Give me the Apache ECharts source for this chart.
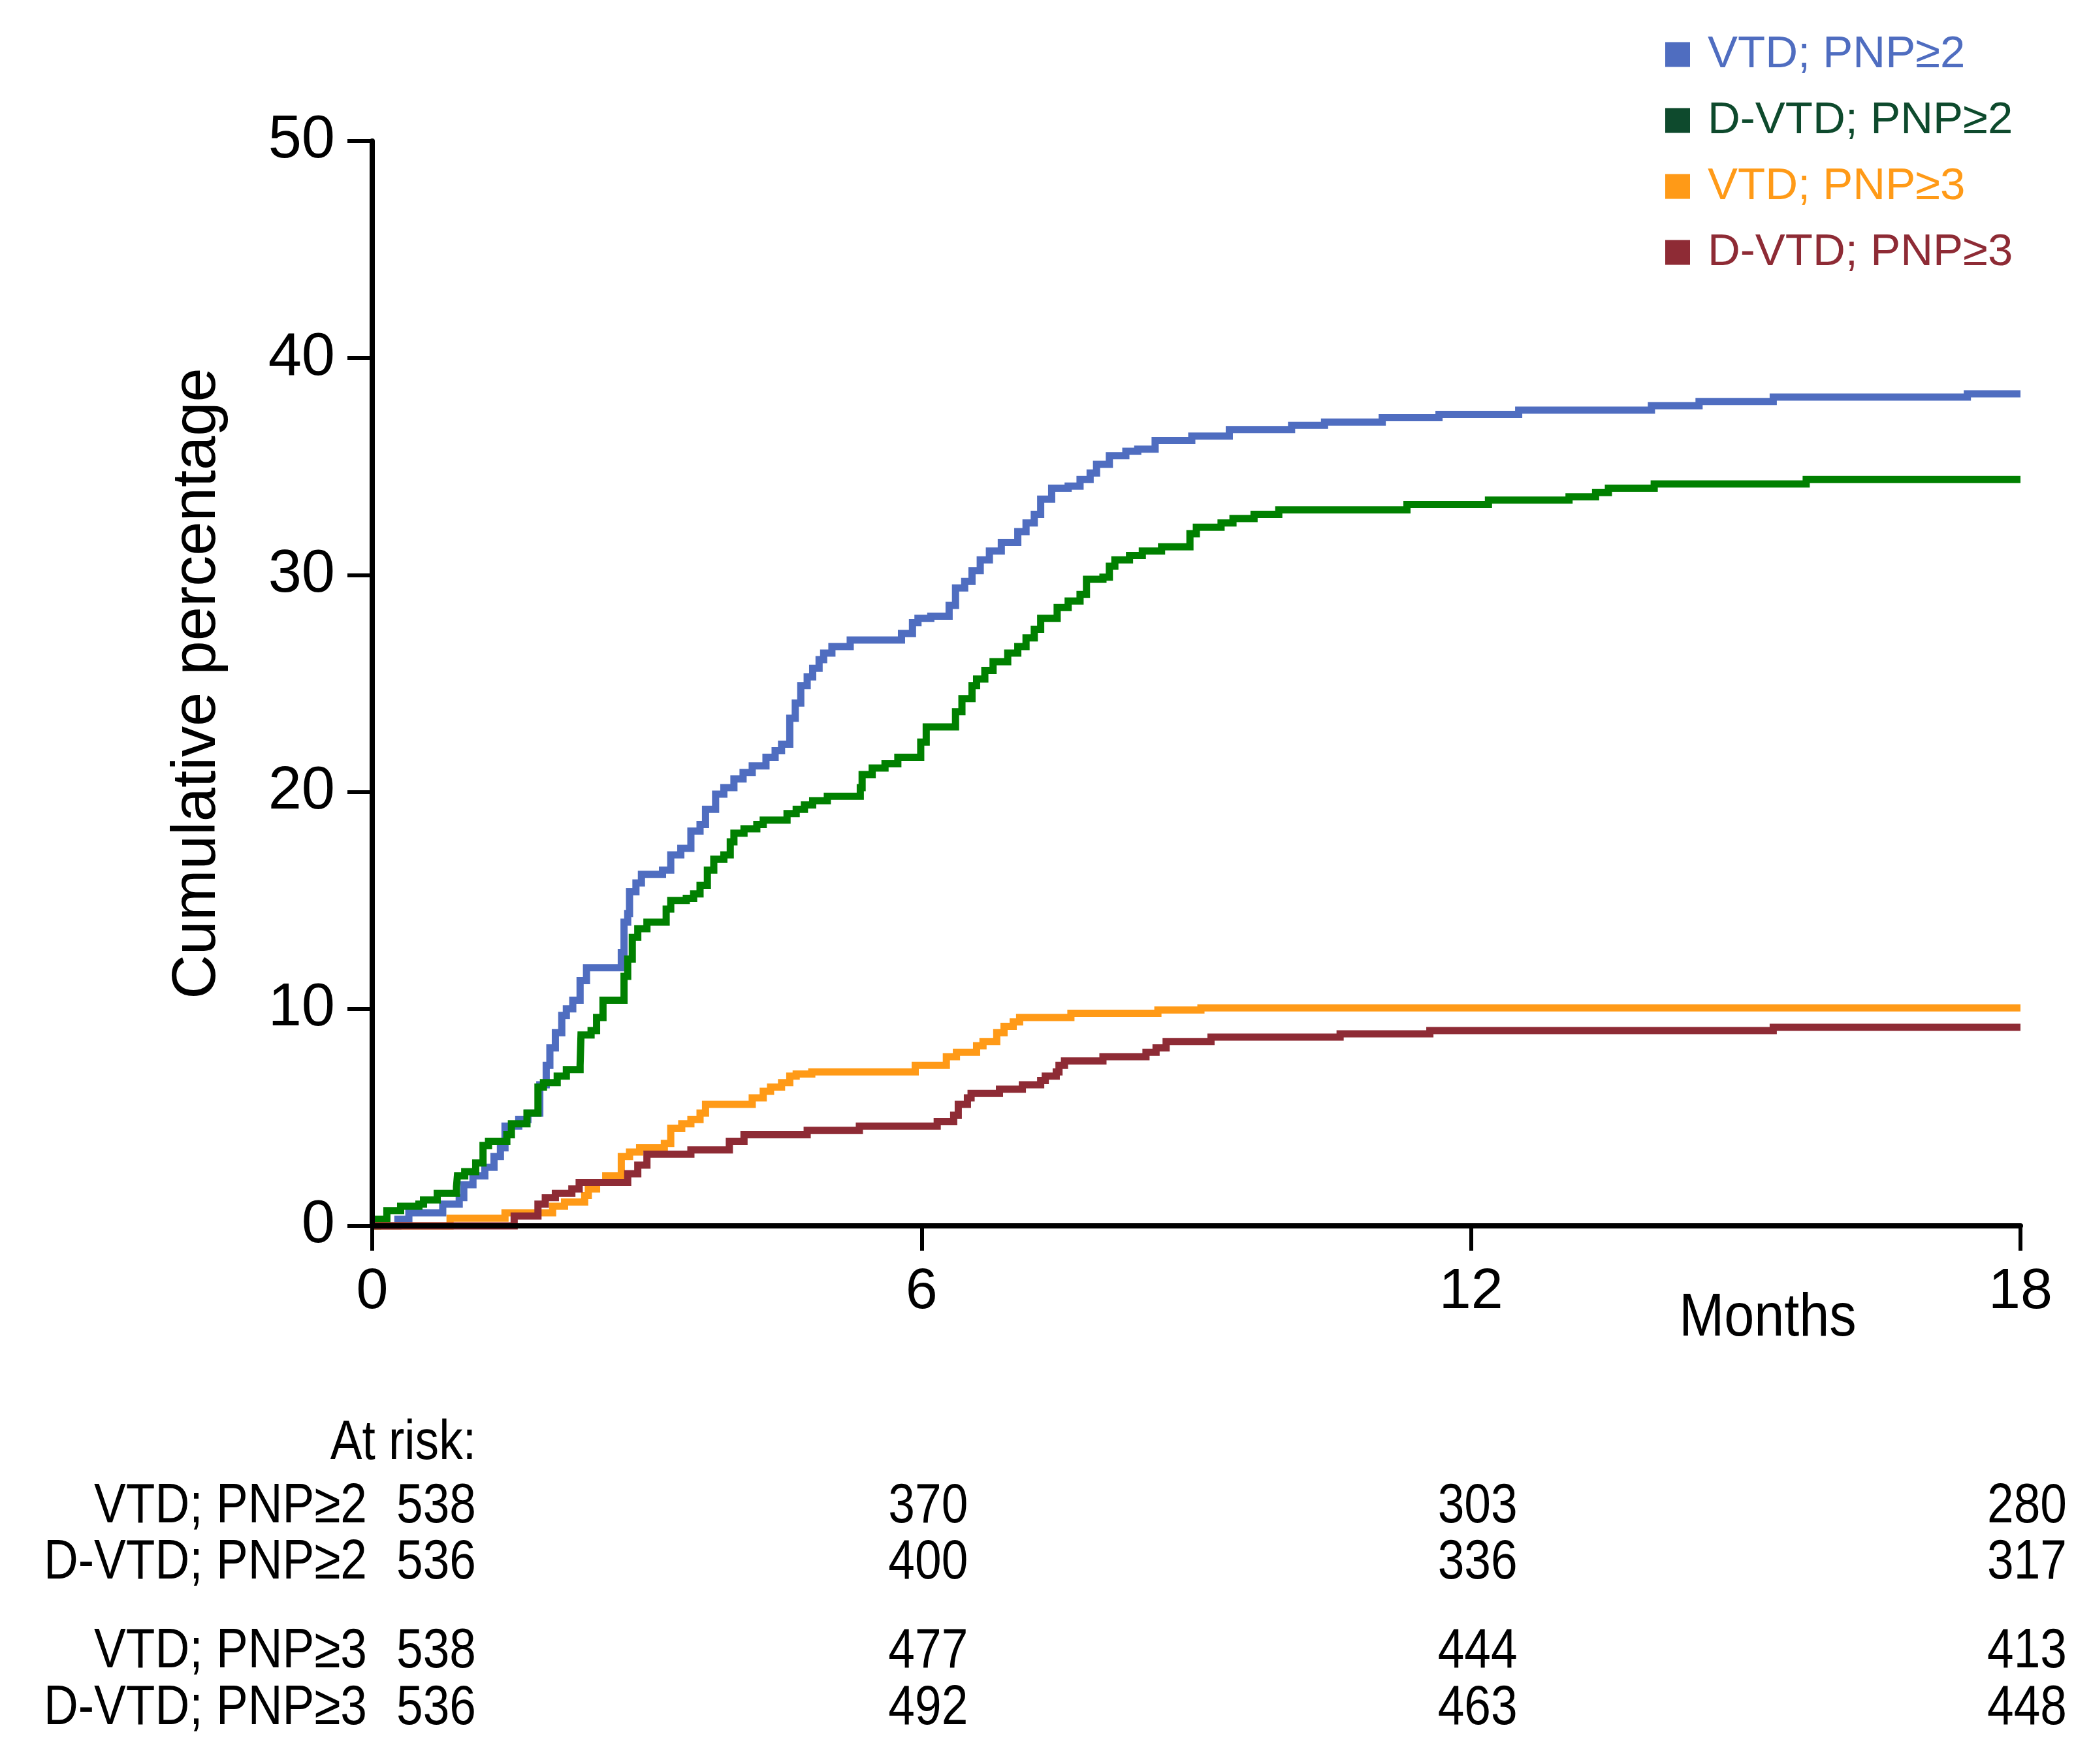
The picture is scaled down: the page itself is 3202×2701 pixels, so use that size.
<!DOCTYPE html>
<html>
<head>
<meta charset="utf-8">
<script src="https://cdn.jsdelivr.net/npm/echarts@6/dist/echarts.min.js"></script>
<style>
html,body{margin:0;padding:0;background:#fff;}
#chart{width:3202px;height:2701px;}
</style>
</head>
<body>
<div id="chart"></div>
<script>
// ---------- DATA (months, cumulative %) ----------
var seriesNames = ['VTD; PNP\u22652', 'D-VTD; PNP\u22652', 'VTD; PNP\u22653', 'D-VTD; PNP\u22653'];

var vtdPnp2 = [
  [0,0],[0.28,0.3],[0.4,0.6],[0.77,1.0],[0.95,1.3],[1.0,1.9],[1.1,2.3],[1.23,2.7],[1.33,3.2],[1.4,3.6],
  [1.45,4.6],[1.6,4.9],[1.7,5.2],[1.83,6.5],[1.9,7.4],[1.94,8.2],[2.0,8.9],[2.07,9.7],[2.12,10.0],[2.19,10.4],
  [2.27,11.3],[2.34,11.9],[2.72,12.6],[2.75,14.0],[2.79,14.4],[2.81,15.4],[2.88,15.8],[2.94,16.2],[3.17,16.4],
  [3.26,17.1],[3.37,17.4],[3.48,18.2],[3.58,18.5],[3.64,19.2],[3.75,19.9],[3.84,20.2],[3.95,20.6],[4.05,20.9],
  [4.15,21.2],[4.3,21.6],[4.4,21.9],[4.47,22.2],[4.56,23.4],[4.62,24.1],[4.68,24.9],[4.75,25.3],[4.81,25.7],
  [4.88,26.1],[4.93,26.4],[5.02,26.7],[5.22,27.0],[5.78,27.3],[5.9,27.8],[5.96,28.0],[6.1,28.1],[6.3,28.6],
  [6.37,29.4],[6.47,29.7],[6.55,30.2],[6.64,30.7],[6.74,31.1],[6.87,31.5],[7.05,32.0],[7.14,32.4],[7.23,32.8],
  [7.3,33.5],[7.42,34.0],[7.6,34.1],[7.73,34.4],[7.84,34.7],[7.91,35.1],[8.05,35.5],[8.23,35.7],[8.36,35.8],
  [8.55,36.2],[8.95,36.4],[9.36,36.7],[10.04,36.9],[10.4,37.05],[11.03,37.25],[11.65,37.4],[12.52,37.6],
  [13.97,37.8],[14.49,38.0],[15.3,38.2],[17.42,38.35],[18,38.35]
];

var dvtdPnp2 = [
  [0,0],[0.06,0.3],[0.16,0.7],[0.31,0.9],[0.51,1.0],[0.56,1.2],[0.71,1.5],[0.92,1.8],[0.93,2.3],[1.01,2.5],
  [1.13,2.9],[1.21,3.7],[1.27,3.9],[1.47,4.2],[1.52,4.7],[1.69,5.2],[1.81,6.4],[1.87,6.6],[2.02,6.9],[2.12,7.2],
  [2.27,7.4],[2.28,8.8],[2.39,9.0],[2.45,9.6],[2.52,10.4],[2.75,11.5],[2.79,12.3],[2.84,13.3],[2.9,13.7],
  [3.0,14.0],[3.21,14.6],[3.26,15.0],[3.43,15.1],[3.51,15.3],[3.58,15.7],[3.66,16.4],[3.73,16.9],[3.84,17.1],
  [3.91,17.7],[3.95,18.1],[4.06,18.3],[4.2,18.5],[4.27,18.7],[4.53,19.0],[4.63,19.2],[4.72,19.4],[4.81,19.6],
  [4.97,19.8],[5.33,20.2],[5.35,20.8],[5.46,21.1],[5.6,21.3],[5.74,21.6],[5.99,22.3],[6.05,23.0],[6.37,23.7],
  [6.44,24.3],[6.55,24.9],[6.6,25.2],[6.69,25.6],[6.78,26.0],[6.94,26.4],[7.05,26.7],[7.14,27.1],[7.23,27.5],
  [7.3,28.0],[7.48,28.5],[7.6,28.8],[7.73,29.1],[7.8,29.8],[7.98,29.9],[8.05,30.4],[8.11,30.7],[8.27,30.9],
  [8.41,31.1],[8.62,31.3],[8.93,31.9],[9.0,32.2],[9.27,32.4],[9.4,32.6],[9.63,32.8],[9.9,33.0],[11.3,33.25],
  [12.19,33.45],[13.07,33.6],[13.36,33.8],[13.5,34.0],[14.0,34.2],[15.66,34.4],[18,34.4]
];

var vtdPnp3 = [
  [0,0],[0.85,0.35],[1.45,0.6],[1.97,0.9],[2.1,1.1],[2.32,1.4],[2.36,1.7],[2.45,2.0],[2.55,2.3],[2.72,3.2],
  [2.81,3.4],[2.92,3.6],[3.19,3.8],[3.26,4.5],[3.38,4.7],[3.48,4.9],[3.58,5.2],[3.64,5.6],[4.15,5.9],[4.27,6.2],
  [4.35,6.4],[4.47,6.6],[4.56,6.9],[4.63,7.0],[4.8,7.1],[5.93,7.4],[6.27,7.8],[6.38,8.0],[6.6,8.3],[6.67,8.5],
  [6.82,8.9],[6.9,9.2],[7.0,9.4],[7.07,9.6],[7.63,9.8],[8.58,9.95],[9.05,10.05],[18,10.05]
];

var dvtdPnp3 = [
  [0,0],[1.55,0.45],[1.81,1.0],[1.89,1.3],[2.0,1.5],[2.18,1.7],[2.26,2.0],[2.79,2.4],[2.9,2.8],[3.0,3.3],
  [3.48,3.5],[3.9,3.9],[4.06,4.2],[4.75,4.4],[5.32,4.6],[6.17,4.8],[6.35,5.1],[6.4,5.6],[6.5,5.9],[6.54,6.1],
  [6.85,6.3],[7.1,6.5],[7.3,6.7],[7.35,6.9],[7.47,7.1],[7.5,7.4],[7.56,7.6],[7.98,7.8],[8.45,8.0],[8.56,8.2],
  [8.67,8.5],[9.16,8.7],[10.57,8.85],[11.55,9.0],[15.3,9.15],[18,9.15]
];

var xTicks = [0, 6, 12, 18];
var yTicks = [0, 10, 20, 30, 40, 50];

var riskTimes = [0, 6, 12, 18];
var riskVtdPnp2  = [538, 370, 303, 280];
var riskDvtdPnp2 = [536, 400, 336, 317];
var riskVtdPnp3  = [538, 477, 444, 413];
var riskDvtdPnp3 = [536, 492, 463, 448];

// ---------- STYLE ----------
var lineColors   = ['#4F6DC0', '#008000', '#FF9A17', '#8E2B35'];
var legendColors = ['#4F6DC0', '#0E4A2D', '#FF9A17', '#8E2B35'];
var FONT = '"Liberation Sans", Arial, Helvetica, sans-serif';

var chart = echarts.init(document.getElementById('chart'));

var allData = [vtdPnp2, dvtdPnp2, vtdPnp3, dvtdPnp3];
var series = allData.map(function (d, i) {
  return {
    name: seriesNames[i],
    type: 'line',
    step: 'end',
    data: d,
    symbol: 'none',
    showSymbol: false,
    clip: false,
    z: 2 + i * 0.1,
    itemStyle: { color: lineColors[i] },
    lineStyle: { color: lineColors[i], width: 11, cap: 'butt', join: 'miter' }
  };
});

var option = {
  animation: false,
  backgroundColor: '#ffffff',
  grid: { left: 570, right: 108, top: 216, bottom: 824, containLabel: false },
  legend: {
    orient: 'vertical',
    left: 2545,
    top: 44,
    icon: 'rect',
    itemWidth: 38,
    itemHeight: 38,
    itemGap: 32,
    selectedMode: false,
    textStyle: { fontSize: 69, fontFamily: FONT, lineHeight: 40, padding: [0, 0, 0, 22] },
    data: seriesNames.map(function (n, i) {
      return { name: n, itemStyle: { color: legendColors[i] }, textStyle: { color: legendColors[i] } };
    })
  },
  xAxis: {
    type: 'value',
    min: 0,
    max: 18,
    interval: 6,
    z: 10,
    axisLine: { show: true, onZero: false, lineStyle: { color: '#000', width: 8 } },
    axisTick: { show: true, length: 38, lineStyle: { color: '#000', width: 6 } },
    splitLine: { show: false },
    axisLabel: {
      color: '#000', fontSize: 88, fontFamily: FONT, margin: 58,
      formatter: function (v) { return xTicks.indexOf(v) >= 0 ? String(v) : ''; }
    }
  },
  yAxis: {
    type: 'value',
    min: 0,
    max: 50,
    interval: 10,
    z: 10,
    axisLine: { show: true, onZero: false, lineStyle: { color: '#000', width: 8 } },
    axisTick: { show: true, length: 38, lineStyle: { color: '#000', width: 6 } },
    splitLine: { show: false },
    axisLabel: {
      color: '#000', fontSize: 92, fontFamily: FONT, margin: 57,
      formatter: function (v) { return yTicks.indexOf(v) >= 0 ? String(v) : ''; }
    }
  },
  series: series
};

chart.setOption(option);

// ---------- Text annotations (axis title, "Months", at-risk table) ----------
function px(t) { return chart.convertToPixel({ xAxisIndex: 0 }, t); }

var graphics = [];
graphics.push({
  type: 'text', x: 303, y: (chart.convertToPixel({ yAxisIndex: 0 }, 0) + chart.convertToPixel({ yAxisIndex: 0 }, 50)) / 2,
  rotation: Math.PI / 2,
  style: { text: 'Cumulative percentage', fontSize: 94, fontFamily: FONT, fill: '#000', align: 'center', verticalAlign: 'middle' }
});
graphics.push({
  type: 'text', x: px(15.24), y: 2020, scaleX: 0.9,
  style: { text: 'Months', fontSize: 92, fontFamily: FONT, fill: '#000', align: 'center', verticalAlign: 'middle' }
});

var RISK_FS = 86, RISK_SX = 0.85;
var firstColRight = px(0) + 159;
var labelRight = px(0) - 8;
graphics.push({
  type: 'text', x: firstColRight, y: 2210, scaleX: RISK_SX,
  style: { text: 'At risk:', fontSize: RISK_FS, fontFamily: FONT, fill: '#000', align: 'right', verticalAlign: 'middle' }
});

var riskRows = [riskVtdPnp2, riskDvtdPnp2, riskVtdPnp3, riskDvtdPnp3];
var rowY = [2307, 2393, 2529, 2616];
riskRows.forEach(function (row, r) {
  graphics.push({
    type: 'text', x: labelRight, y: rowY[r], scaleX: RISK_SX,
    style: { text: seriesNames[r], fontSize: RISK_FS, fontFamily: FONT, fill: '#000', align: 'right', verticalAlign: 'middle' }
  });
  row.forEach(function (v, k) {
    var t = riskTimes[k];
    var isFirst = (k === 0);
    graphics.push({
      type: 'text', x: isFirst ? firstColRight : px(t) + 10, y: rowY[r], scaleX: RISK_SX,
      style: { text: String(v), fontSize: RISK_FS, fontFamily: FONT, fill: '#000', align: isFirst ? 'right' : 'center', verticalAlign: 'middle' }
    });
  });
});

chart.setOption({ graphic: graphics });
</script>
</body>
</html>
